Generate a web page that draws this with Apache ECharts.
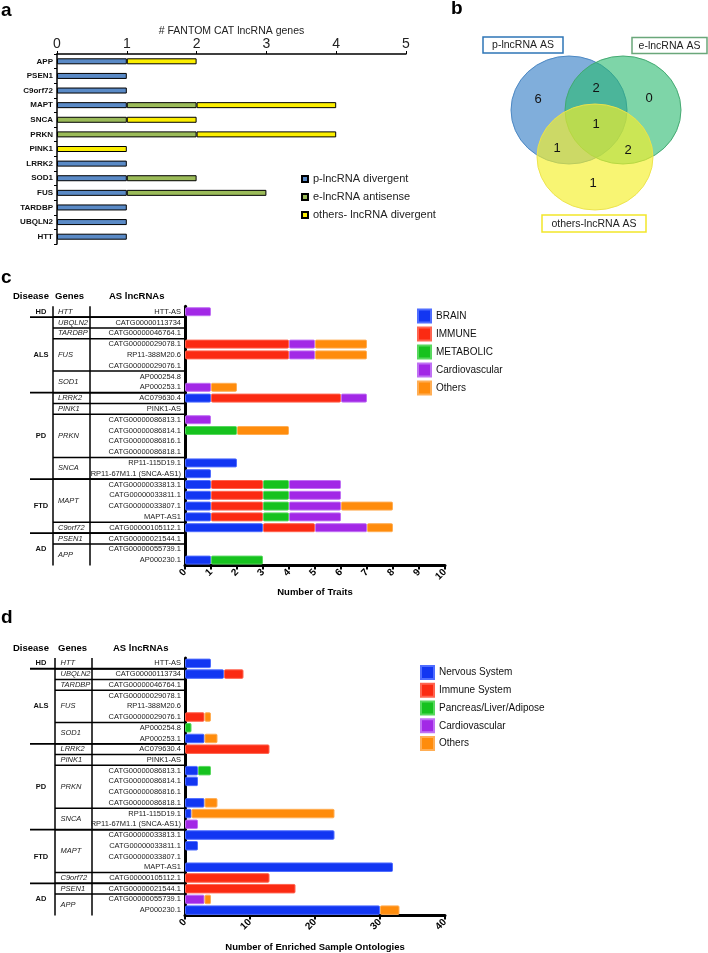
<!DOCTYPE html>
<html><head><meta charset="utf-8">
<script src="https://cdn.jsdelivr.net/npm/echarts@6/dist/echarts.min.js"></script>
<style>html,body{margin:0;padding:0;background:#fff}#main{width:708px;height:953px}</style>
</head><body><div id="main"></div>
<script>
// ---------- Panel a data ----------
const aGenes = ['APP','PSEN1','C9orf72','MAPT','SNCA','PRKN','PINK1','LRRK2','SOD1','FUS','TARDBP','UBQLN2','HTT'];
const aSeriesNames = ['p-lncRNA divergent','e-lncRNA antisense','others- lncRNA divergent'];
const aPDivergent      = [1,1,1,1,0,0,0,1,1,1,1,1,1];
const aEAntisense      = [0,0,0,1,1,2,0,0,1,2,0,0,0];
const aOthersDivergent = [1,0,0,2,1,2,1,0,0,0,0,0,0];
const aTickValues = [0,1,2,3,4,5];

// ---------- Panel b data ----------
const vennSetNames = ['p-lncRNA AS','e-lncRNA AS','others-lncRNA AS'];
const vennRegions  = ['p','e','p&e','p&e&o','p&o','e&o','o'];
const vennCounts   = [6,0,2,1,1,2,1];

// ---------- Panels c/d table ----------
const diseaseNames = ['HD','ALS','PD','FTD','AD'];
const diseaseGeneCounts = [1,4,4,2,2];
const geneNames = ['HTT','UBQLN2','TARDBP','FUS','SOD1','LRRK2','PINK1','PRKN','SNCA','MAPT','C9orf72','PSEN1','APP'];
const geneRowCounts = [1,1,1,3,2,1,1,4,2,4,1,1,2];
const lncRNAs = ['HTT-AS','CATG00000113734','CATG00000046764.1','CATG00000029078.1','RP11-388M20.6','CATG00000029076.1','AP000254.8','AP000253.1','AC079630.4','PINK1-AS','CATG00000086813.1','CATG00000086814.1','CATG00000086816.1','CATG00000086818.1','RP11-115D19.1','RP11-67M1.1 (SNCA-AS1)','CATG00000033813.1','CATG00000033811.1','CATG00000033807.1','MAPT-AS1','CATG00000105112.1','CATG00000021544.1','CATG00000055739.1','AP000230.1'];

// ---------- Panel c data (Number of Traits) ----------
const cNames = ['BRAIN','IMMUNE','METABOLIC','Cardiovascular','Others'];
const cBrain     = [0,0,0,0,0,0,0,0,1,0,0,0,0,0,2,1,1,1,1,1,3,0,0,1];
const cImmune    = [0,0,0,4,4,0,0,0,5,0,0,0,0,0,0,0,2,2,2,2,2,0,0,0];
const cMetabolic = [0,0,0,0,0,0,0,0,0,0,0,2,0,0,0,0,1,1,1,1,0,0,0,2];
const cCardio    = [1,0,0,1,1,0,0,1,1,0,1,0,0,0,0,0,2,2,2,2,2,0,0,0];
const cOthers    = [0,0,0,2,2,0,0,1,0,0,0,2,0,0,0,0,0,0,2,0,1,0,0,0];
const cTicks = [0,1,2,3,4,5,6,7,8,9,10];

// ---------- Panel d data (Number of Enriched Sample Ontologies) ----------
const dNames = ['Nervous System','Immune System','Pancreas/Liver/Adipose','Cardiovascular','Others'];
const dNervous  = [4,6,0,0,0,0,0,3,0,0,2,2,0,3,1,0,23,2,0,32,0,0,0,30];
const dImmune   = [0,3,0,0,0,3,0,0,13,0,0,0,0,0,0,0,0,0,0,0,13,17,0,0];
const dPancreas = [0,0,0,0,0,0,1,0,0,0,2,0,0,0,0,0,0,0,0,0,0,0,0,0];
const dCardio   = [0,0,0,0,0,0,0,0,0,0,0,0,0,0,0,2,0,0,0,0,0,0,3,0];
const dOthers   = [0,0,0,0,0,1,0,2,0,0,0,0,0,2,22,0,0,0,0,0,0,0,1,3];
const dTicks = [0,10,20,30,40];

// ---------- styles ----------
const FONT = "'Liberation Sans', Arial, Helvetica, sans-serif";
const aColors = ['#5a8ac6','#9bbb59','#fbee00'];
const catColors = ['#1236f2','#fb2a12','#16c21e','#a228e6','#ff8c0c'];
const catBorders = ['#4f6dff','#ff6450','#58d85e','#c070f4','#ffae55'];

const nz = arr => arr.map(v => v === 0 ? '-' : v);

const chart = echarts.init(document.getElementById('main'), null, {renderer:'canvas'});

const aSeries = [aPDivergent, aEAntisense, aOthersDivergent].map((d,k)=>({
  name: aSeriesNames[k], type:'bar', stack:'a', xAxisIndex:0, yAxisIndex:0, barWidth:6,
  data: nz(d), itemStyle:{color:aColors[k], borderColor:'#000', borderWidth:1}
}));
const cSeries = [cBrain,cImmune,cMetabolic,cCardio,cOthers].map((d,k)=>({
  name: cNames[k], type:'bar', stack:'c', xAxisIndex:1, yAxisIndex:1, barWidth:9,
  data: nz(d), itemStyle:{color:catColors[k], borderColor:catBorders[k], borderWidth:1, borderRadius:1}
}));
const dSeries = [dNervous,dImmune,dPancreas,dCardio,dOthers].map((d,k)=>({
  name: dNames[k], type:'bar', stack:'d', xAxisIndex:2, yAxisIndex:2, barWidth:9.5,
  data: nz(d), itemStyle:{color:catColors[k], borderColor:catBorders[k], borderWidth:1, borderRadius:1}
}));

function valueXAxis(gi, ticks, name, nameGap){
  return {
    gridIndex:gi, type:'value', min:ticks[0], max:ticks[ticks.length-1], interval:ticks[1]-ticks[0],
    name:name, nameLocation:'middle', nameGap:nameGap, nameMoveOverlap:false,
    nameTextStyle:{fontSize:9.5, fontWeight:'bold', color:'#000', fontFamily:FONT},
    axisLine:{show:true, onZero:false, lineStyle:{color:'#000', width:3}},
    axisTick:{show:true, length:4, lineStyle:{color:'#000', width:2}},
    axisLabel:{rotate:45, fontSize:10, fontWeight:'bold', color:'#000', margin:5, fontFamily:FONT},
    splitLine:{show:false}
  };
}
function catYAxis(gi){
  return {
    gridIndex:gi, type:'category', inverse:true, data:lncRNAs,
    axisLine:{show:true, onZero:false, lineStyle:{color:'#000', width:3}},
    axisTick:{show:false},
    axisLabel:{interval:0, fontSize:7.5, color:'#222', margin:4, fontFamily:FONT},
    splitLine:{show:false}
  };
}

const legendCommon = {orient:'vertical', selectedMode:false, icon:'rect'};
const option = {
  animation:false,
  backgroundColor:'#fff',
  textStyle:{fontFamily:FONT},
  grid:[
    {left:57, top:54, width:349, height:190, outerBoundsMode:'none', containLabel:false},
    {left:185, top:306.3, width:260, height:259.2, outerBoundsMode:'none', containLabel:false},
    {left:185, top:658, width:260, height:257.5, outerBoundsMode:'none', containLabel:false}
  ],
  xAxis:[
    {gridIndex:0, type:'value', position:'top', min:aTickValues[0], max:aTickValues[aTickValues.length-1], interval:1,
     name:'# FANTOM CAT lncRNA genes', nameLocation:'middle', nameGap:17, nameMoveOverlap:false,
     nameTextStyle:{fontSize:10.5, color:'#222', fontFamily:FONT},
     axisLine:{show:true, onZero:false, lineStyle:{color:'#000', width:1.5}},
     axisTick:{show:true, length:3, lineStyle:{color:'#000', width:1}},
     axisLabel:{fontSize:14, color:'#222', margin:3, fontFamily:FONT},
     splitLine:{show:false}},
    valueXAxis(1, cTicks, 'Number of Traits', 22),
    valueXAxis(2, dTicks, 'Number of Enriched Sample Ontologies', 27)
  ],
  yAxis:[
    {gridIndex:0, type:'category', inverse:true, data:aGenes,
     axisLine:{show:true, onZero:false, lineStyle:{color:'#000', width:1.5}},
     axisTick:{show:true, length:3, lineStyle:{color:'#000', width:1}},
     axisLabel:{interval:0, fontSize:8, fontWeight:'bold', color:'#111', margin:4, fontFamily:FONT},
     splitLine:{show:false}},
    catYAxis(1), catYAxis(2)
  ],
  legend:[
    Object.assign({}, legendCommon, {data:aSeriesNames, left:296, top:168, itemWidth:6, itemHeight:6, itemGap:6,
      textStyle:{fontSize:11, color:'#222', lineHeight:12, fontFamily:FONT}}),
    Object.assign({}, legendCommon, {data:cNames, left:412, top:303.5, itemWidth:13, itemHeight:13, itemGap:3,
      textStyle:{fontSize:10, color:'#111', lineHeight:13, fontFamily:FONT}}),
    Object.assign({}, legendCommon, {data:dNames, left:415, top:660, itemWidth:13, itemHeight:13, itemGap:2.75,
      textStyle:{fontSize:10, color:'#111', lineHeight:13, fontFamily:FONT}})
  ],
  series:[].concat(aSeries, cSeries, dSeries)
};
chart.setOption(option);

// ---------- graphics: panel letters, venn, tables ----------
const g = [];
function txt(x, y, s, font, opts){
  g.push({type:'text', x:x, y:y, silent:true, style:Object.assign({text:s, font:font, fill:'#000', align:'left', verticalAlign:'middle'}, opts||{})});
}
function ln(x1,y1,x2,y2,w){
  g.push({type:'line', silent:true, shape:{x1:x1,y1:y1,x2:x2,y2:y2}, style:{stroke:'#000', lineWidth:w||1.5}});
}
// panel letters
txt(1, 11, 'a', 'bold 19px ' + FONT);
txt(451, 9, 'b', 'bold 19px ' + FONT);
txt(1, 278, 'c', 'bold 19px ' + FONT);
txt(1, 618, 'd', 'bold 19px ' + FONT);

// venn
const vennCircles = [
  {x:569, y:110, rx:58, ry:54, fill:'rgba(60,130,200,0.65)', stroke:'#4a86c2'},
  {x:623, y:110, rx:58, ry:54, fill:'rgba(40,185,110,0.6)', stroke:'#42a870'},
  {x:595, y:157, rx:58, ry:53, fill:'rgba(245,240,40,0.65)', stroke:'#ece34a'}
];
vennCircles.forEach(c=>{
  g.push({type:'circle', x:c.x, y:c.y, scaleY:c.ry/c.rx, silent:true,
    shape:{cx:0, cy:0, r:c.rx}, style:{fill:c.fill, stroke:c.stroke, lineWidth:1}});
});
const vennLabelPos = {'p':[538,99], 'e':[649,98], 'p&e':[596,88], 'p&e&o':[596,124], 'p&o':[557,148], 'e&o':[628,150], 'o':[593,183]};
vennRegions.forEach((r,i)=>{
  const p = vennLabelPos[r];
  txt(p[0], p[1], String(vennCounts[i]), '13px ' + FONT, {align:'center', fill:'#111'});
});
const vennBoxes = [
  {x:483, y:37, w:80, h:16, stroke:'#2e75b6'},
  {x:632, y:37.5, w:75, h:16, stroke:'#6aa77a'},
  {x:542, y:215, w:104, h:17, stroke:'#f2e62a'}
];
vennBoxes.forEach((b,i)=>{
  g.push({type:'rect', silent:true, shape:{x:b.x, y:b.y, width:b.w, height:b.h}, style:{fill:'#fff', stroke:b.stroke, lineWidth:1.5}});
  txt(b.x + b.w/2, b.y + b.h/2 + 0.5, vennSetNames[i], '10.5px ' + FONT, {align:'center', fill:'#222'});
});

// tables
function table(yAxisIndex, xAxisIndex, cfg){
  const px = i => chart.convertToPixel({yAxisIndex:yAxisIndex}, i);
  const n = lncRNAs.length;
  const step = px(1) - px(0);
  const top = px(0) - step/2, bottom = px(n-1) + step/2;
  const axisX = chart.convertToPixel({xAxisIndex:xAxisIndex}, 0);
  ln(cfg.col1, top, cfg.col1, bottom);
  ln(cfg.col2, top, cfg.col2, bottom);
  txt(cfg.hx[0], cfg.hy, 'Disease', 'bold 9.5px ' + FONT);
  txt(cfg.hx[1], cfg.hy, 'Genes', 'bold 9.5px ' + FONT);
  txt(cfg.hx[2], cfg.hy, 'AS lncRNAs', 'bold 9.5px ' + FONT);
  let r = 0;
  geneNames.forEach((name,k)=>{
    const cnt = geneRowCounts[k];
    const yMid = (px(r) + px(r+cnt-1))/2;
    txt(cfg.geneX, yMid, name, 'italic 7.5px ' + FONT, {fill:'#222'});
    r += cnt;
    if (r < n){ const yb = (px(r-1)+px(r))/2; ln(cfg.col1, yb, axisX, yb); }
  });
  let gi = 0; r = 0;
  diseaseNames.forEach((name,k)=>{
    let cnt = 0;
    for (let j=0;j<diseaseGeneCounts[k];j++){ cnt += geneRowCounts[gi++]; }
    const yMid = (px(r) + px(r+cnt-1))/2;
    txt(cfg.disX, yMid, name, 'bold 7.5px ' + FONT, {align:'center', fill:'#111'});
    r += cnt;
    if (r < n){ const yb = (px(r-1)+px(r))/2; ln(cfg.disLine, yb, axisX, yb, 1.8); }
  });
}
table(1, 1, {col1:53, col2:90, geneX:58, disX:41, disLine:30, hx:[13,55,109], hy:296});
table(2, 2, {col1:55, col2:92, geneX:60.5, disX:41, disLine:30, hx:[13,58,113], hy:648});

chart.setOption({graphic:{elements:g}});
</script></body></html>
